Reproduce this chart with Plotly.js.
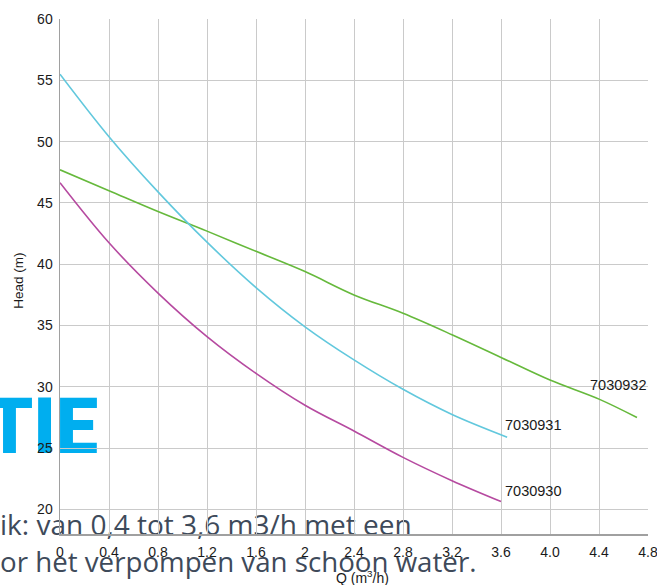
<!DOCTYPE html>
<html>
<head>
<meta charset="utf-8">
<script src="https://cdn.plot.ly/plotly-3.0.1.min.js"></script>
<style>
  html, body { margin: 0; padding: 0; background: #ffffff; }
  #wrap { position: relative; width: 657px; height: 585px; overflow: hidden; }
  #bg { position: absolute; left: 0; top: 0; }
  #chart { position: absolute; left: 0; top: 0; width: 657px; height: 585px; }
</style>
</head>
<body>
<div id="wrap">
  <svg id="bg" width="657" height="585" xmlns="http://www.w3.org/2000/svg">
    <text x="-14" y="453" font-family="Roboto, 'Liberation Sans', sans-serif" font-weight="900" font-size="77" fill="#00aeef" textLength="112" lengthAdjust="spacingAndGlyphs">TIE</text>
    <text x="0" y="535" font-family="'Open Sans', sans-serif" font-size="28" fill="#3e4a5a">ik: van 0,4 tot 3,6 m3/h met een</text>
    <text x="0" y="572" font-family="'Open Sans', sans-serif" font-size="27.7" fill="#3e4a5a">or het verpompen van schoon water.</text>
  </svg>
  <div id="chart"></div>
</div>
<script>
// Tick labels
const xTickVals = [0, 0.4, 0.8, 1.2, 1.6, 2.0, 2.4, 2.8, 3.2, 3.6, 4.0, 4.4, 4.8];
const xTickText = ['0', '0.4', '0.8', '1.2', '1.6', '2', '2.4', '2.8', '3.2', '3.6', '4.0', '4.4', '4.8'];
const yTickVals = [20, 25, 30, 35, 40, 45, 50, 55, 60];

// Series: 7030932 (green)
const q7030932 = [0, 0.4, 0.8, 1.2, 1.6, 2.0, 2.4, 2.8, 3.2, 3.6, 4.0, 4.4, 4.71];
const h7030932 = [47.7, 46.0, 44.3, 42.7, 41.05, 39.4, 37.5, 36.0, 34.25, 32.4, 30.55, 29.0, 27.5];

// Series: 7030931 (cyan)
const q7030931 = [0, 0.4, 0.8, 1.2, 1.6, 2.0, 2.4, 2.8, 3.2, 3.65];
const h7030931 = [55.5, 50.4, 45.9, 41.8, 38.1, 34.9, 32.2, 29.8, 27.75, 25.9];

// Series: 7030930 (magenta)
const q7030930 = [0, 0.4, 0.8, 1.2, 1.6, 2.0, 2.4, 2.8, 3.2, 3.6];
const h7030930 = [46.65, 41.75, 37.65, 34.1, 31.1, 28.5, 26.4, 24.25, 22.35, 20.65];

const seriesNames = ['7030932', '7030931', '7030930'];
const labelQ = [4.31, 3.62, 3.62];
const labelH = [30.16, 26.89, 21.52];

const sans = "'Liberation Sans', Arial, sans-serif";

function lineTrace(x, y, color, name) {
  return {
    x: x, y: y, name: name, type: 'scatter', mode: 'lines',
    line: { color: color, width: 1.6, shape: 'spline', smoothing: 1 },
    hoverinfo: 'x+y+name'
  };
}

const data = [
  lineTrace(q7030932, h7030932, '#66b93c', seriesNames[0]),
  lineTrace(q7030931, h7030931, '#62c8dd', seriesNames[1]),
  lineTrace(q7030930, h7030930, '#b64aa0', seriesNames[2])
];

const annotations = seriesNames.map((n, i) => ({
  x: labelQ[i], y: labelH[i], xref: 'x', yref: 'y',
  text: n, showarrow: false, xanchor: 'left', yanchor: 'middle',
  font: { family: sans, size: 14.5, color: '#1a1a1a' }
}));

annotations.push({
  xref: 'paper', yref: 'paper', x: (19 - 60) / 588, y: (534 - 281) / 514.7,
  text: 'Head (m)', textangle: -90, showarrow: false,
  xanchor: 'center', yanchor: 'middle',
  font: { family: sans, size: 13.5, color: '#1a1a1a' }
});
annotations.push({
  xref: 'paper', yref: 'paper', x: (362 - 60) / 588, y: (534 - 577) / 514.7,
  text: 'Q (m<sup>3</sup>/h)', showarrow: false,
  xanchor: 'center', yanchor: 'middle',
  font: { family: sans, size: 14, color: '#1a1a1a' }
});

const layout = {
  width: 657, height: 585,
  margin: { l: 60, r: 9, t: 19, b: 51, pad: 0 },
  paper_bgcolor: 'rgba(0,0,0,0)',
  plot_bgcolor: 'rgba(0,0,0,0)',
  showlegend: false,
  xaxis: {
    range: [0, 4.8], tickmode: 'array', tickvals: xTickVals, ticktext: xTickText,
    showgrid: true, gridcolor: '#cacaca', gridwidth: 1, zeroline: false,
    showline: true, linecolor: '#a0a0a0', linewidth: 1.5,
    ticks: '', ticklabelstandoff: 5, ticklabeloverflow: 'allow',
    tickfont: { family: sans, size: 14, color: '#1a1a1a' }
  },
  yaxis: {
    range: [18, 60], tickmode: 'array', tickvals: yTickVals,
    showgrid: true, gridcolor: '#cacaca', gridwidth: 1, zeroline: false,
    showline: true, linecolor: '#a0a0a0', linewidth: 1.5,
    ticks: '', ticklabelstandoff: 3, ticklabeloverflow: 'allow',
    tickfont: { family: sans, size: 14, color: '#1a1a1a' }
  },
  annotations: annotations
};

Plotly.newPlot('chart', data, layout, { displayModeBar: false, staticPlot: true });
</script>
</body>
</html>
